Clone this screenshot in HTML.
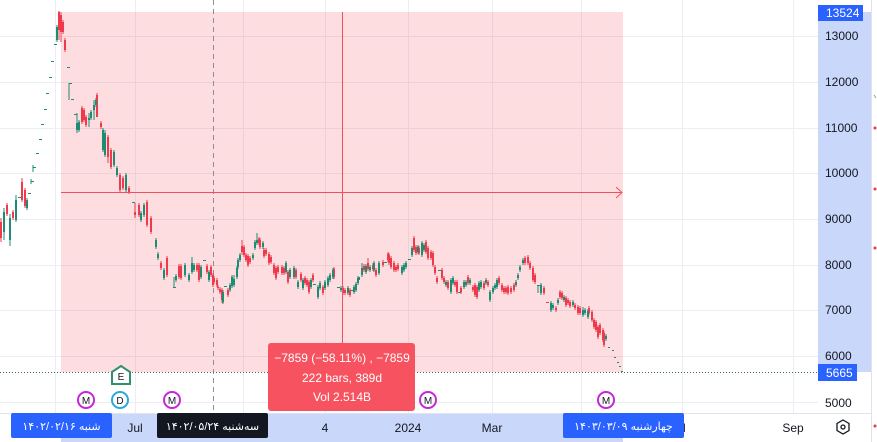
<!DOCTYPE html>
<html><head><meta charset="utf-8"><style>
html,body{margin:0;padding:0;background:#fff;}
svg{display:block;font-family:"Liberation Sans","DejaVu Sans",sans-serif;}
</style></head><body>
<svg width="877" height="442" viewBox="0 0 877 442" xmlns="http://www.w3.org/2000/svg">
<rect width="877" height="442" fill="#fff"/>
<!-- grid -->
<g stroke="#eceef3" stroke-width="1">
<path d="M0 36.5H818M0 82.5H818M0 128.5H818M0 173.5H818M0 219.5H818M0 265.5H818M0 310.5H818M0 356.5H818M0 402.5H818"/>
<path d="M55.5 0V413M135.5 0V413M243.5 0V413M325.5 0V413M408.5 0V413M492.5 0V413M581.5 0V413M682.5 0V413M793.5 0V413"/>
</g>
<!-- pink range -->
<rect x="61" y="12" width="562" height="360" fill="rgba(242,54,69,0.17)"/>
<!-- dashed vertical -->
<path d="M213.5 0V413" stroke="#8a8e99" stroke-width="1" stroke-dasharray="5 4"/>
<!-- candles: wicks -->
<path fill="none" stroke="#ee3a4c" stroke-width="1" d="M1 218V242M7 203V216M13 210V220M22 178V202M25 188V208M59 11V40M61 12V42M63 20V34M65 38V52M82 106V124M84 108V122M86 115V127M97 93V117M101 121V129M108 135V163M111 148V169M120 173V192M123 176V190M129 186V194M135 203V218M139 203V217M147 200V227M151 216V234M161 261V270M167 256V277M179 264V279M181 264V280M197 263V272M199 263V282M207 264V274M211 265V277M213 273V287M214 276V284M217 278V287M218 285V290M220 287V294M222 288V303M228 288V297M242 240V255M244 245V257M246 253V262M248 254V267M250 256V264M259 237V245M260 238V249M264 248V258M266 248V256M269 252V265M271 255V264M274 263V275M276 266V280M278 265V274M282 265V275M284 266V275M288 270V284M296 268V279M301 272V282M305 276V285M307 278V287M309 280V294M313 273V282M323 285V295M334 267V279M343 286V295M345 288V295M350 288V297M364 264V272M368 258V271M373 263V271M376 268V277M383 260V267M388 252V262M389 253V265M391 256V269M394 261V272M396 265V272M398 263V271M414 236V252M416 245V255M419 246V255M426 240V254M428 246V260M431 250V260M433 251V267M435 265V275M437 276V284M442 268V280M444 276V284M448 280V290M455 280V287M457 280V294M461 286V294M468 275V285M473 285V292M475 283V297M477 285V299M484 281V290M488 280V287M499 276V285M502 283V292M504 286V294M506 286V294M508 285V295M511 286V294M514 283V292M525 256V265M528 255V265M530 261V270M533 266V282M535 273V284M544 286V295M556 306V312M560 290V299M562 291V300M566 296V307M568 298V305M570 300V308M575 303V310M578 305V315M580 306V315M589 306V315M592 310V322M594 318V329M596 320V332M598 325V339M600 323V335M603 328V342M604 331V347"/>
<path fill="none" stroke="#1e8c72" stroke-width="1" d="M4 208V240M10 214V246M16 195V222M27 198V210M57 25V42M77 113V133M79 120V132M89 113V127M91 110V120M94 100V120M96 98V107M103 128V152M105 130V157M114 150V167M117 166V177M126 173V192M141 211V222M144 203V217M156 238V249M158 252V260M164 268V280M174 277V288M176 274V282M185 263V277M189 273V282M192 257V274M194 263V272M201 265V279M209 270V282M223 290V304M230 283V292M232 275V288M234 275V287M237 266V279M238 258V269M240 253V262M253 253V260M255 240V250M257 233V245M263 241V249M286 261V274M290 268V279M294 266V279M298 280V289M303 278V290M311 278V289M318 285V299M320 281V290M325 280V290M328 276V287M330 273V282M333 268V279M341 286V292M348 286V295M354 285V294M356 282V292M358 276V285M362 263V277M366 264V274M370 265V272M374 261V272M379 261V275M402 265V275M404 263V272M406 261V269M412 246V257M418 245V254M422 241V257M424 243V252M446 280V287M451 278V294M453 276V285M464 280V289M466 280V287M470 278V285M479 281V292M481 280V289M486 278V285M490 290V302M493 286V294M495 283V290M497 278V289M516 280V287M518 273V280M520 265V272M523 258V265M538 285V293M541 283V295M551 301V312M553 303V310M558 298V305M564 295V302M573 300V307M583 307V317M585 308V315M588 309V319M606 334V341M33 165V172M69 83V100M31 179V184"/>
<!-- red bodies -->
<path fill="#ee3a4c" d="M0 222h2v16h-2zM6 205h2v9h-2zM12 212h2v6h-2zM21 182h2v18h-2zM24 190h2v16h-2zM58 12h2v18h-2zM60 15h2v17h-2zM62 22h2v10h-2zM64 40h2v10h-2zM81 108h2v14h-2zM83 110h2v10h-2zM85 117h2v8h-2zM96 95h2v22h-2zM100 123h2v4h-2zM107 137h2v20h-2zM110 150h2v17h-2zM119 175h2v15h-2zM122 178h2v10h-2zM128 188h2v4h-2zM134 212h2v3h-2zM138 205h2v10h-2zM146 202h2v23h-2zM150 218h2v14h-2zM160 263h2v5h-2zM166 258h2v17h-2zM178 266h2v11h-2zM180 266h2v12h-2zM196 265h2v5h-2zM198 265h2v15h-2zM206 266h2v6h-2zM210 267h2v8h-2zM212 275h2v10h-2zM213 278h2v4h-2zM216 280h2v5h-2zM217 287h2v1h-2zM219 289h2v3h-2zM221 290h2v10h-2zM227 290h2v5h-2zM241 246h2v6h-2zM243 247h2v8h-2zM245 255h2v5h-2zM247 256h2v9h-2zM249 258h2v4h-2zM258 239h2v4h-2zM259 240h2v7h-2zM263 250h2v6h-2zM265 250h2v4h-2zM268 254h2v9h-2zM270 257h2v5h-2zM273 265h2v8h-2zM275 268h2v10h-2zM277 267h2v5h-2zM281 267h2v6h-2zM283 268h2v5h-2zM287 272h2v10h-2zM295 270h2v7h-2zM300 274h2v6h-2zM304 278h2v5h-2zM306 280h2v5h-2zM308 282h2v10h-2zM312 275h2v5h-2zM322 287h2v6h-2zM333 269h2v8h-2zM342 288h2v5h-2zM344 290h2v3h-2zM349 290h2v5h-2zM363 266h2v4h-2zM367 263h2v6h-2zM372 265h2v4h-2zM375 270h2v5h-2zM382 262h2v3h-2zM387 254h2v6h-2zM388 255h2v8h-2zM390 258h2v9h-2zM393 263h2v7h-2zM395 267h2v3h-2zM397 265h2v4h-2zM413 238h2v12h-2zM415 247h2v6h-2zM418 248h2v5h-2zM425 242h2v10h-2zM427 248h2v10h-2zM430 252h2v6h-2zM432 253h2v12h-2zM434 267h2v6h-2zM436 278h2v4h-2zM441 270h2v8h-2zM443 278h2v4h-2zM447 282h2v6h-2zM454 282h2v3h-2zM456 282h2v10h-2zM460 288h2v4h-2zM467 277h2v6h-2zM472 287h2v3h-2zM474 285h2v10h-2zM476 287h2v10h-2zM483 283h2v5h-2zM487 282h2v3h-2zM498 278h2v5h-2zM501 285h2v5h-2zM503 288h2v4h-2zM505 288h2v4h-2zM507 287h2v6h-2zM510 288h2v4h-2zM513 285h2v5h-2zM524 258h2v5h-2zM527 257h2v6h-2zM529 263h2v5h-2zM532 268h2v12h-2zM534 275h2v7h-2zM543 288h2v5h-2zM546 302h3v1h-3zM555 308h2v2h-2zM559 292h2v5h-2zM561 293h2v5h-2zM565 298h2v7h-2zM567 300h2v3h-2zM569 302h2v4h-2zM574 305h2v3h-2zM577 307h2v6h-2zM579 308h2v5h-2zM588 308h2v5h-2zM591 312h2v8h-2zM593 320h2v7h-2zM595 322h2v8h-2zM597 327h2v10h-2zM599 325h2v8h-2zM602 330h2v10h-2zM603 333h2v12h-2z"/>
<!-- green bodies -->
<path fill="#1e8c72" d="M3 212h2v20h-2zM9 218h2v22h-2zM15 200h2v20h-2zM26 200h2v8h-2zM56 27h2v13h-2zM76 123h2v7h-2zM78 122h2v8h-2zM88 118h2v2h-2zM90 112h2v6h-2zM93 105h2v5h-2zM95 100h2v5h-2zM102 130h2v20h-2zM104 133h2v22h-2zM113 152h2v13h-2zM116 168h2v7h-2zM125 175h2v15h-2zM140 213h2v7h-2zM143 205h2v10h-2zM155 240h2v7h-2zM157 254h2v4h-2zM163 270h2v8h-2zM175 276h2v4h-2zM184 265h2v10h-2zM188 275h2v5h-2zM191 263h2v9h-2zM193 265h2v5h-2zM200 267h2v10h-2zM208 272h2v8h-2zM222 292h2v10h-2zM229 285h2v5h-2zM231 277h2v9h-2zM233 279h2v6h-2zM236 268h2v9h-2zM237 260h2v7h-2zM239 255h2v5h-2zM252 255h2v3h-2zM254 242h2v6h-2zM256 240h2v3h-2zM262 243h2v4h-2zM285 263h2v9h-2zM289 270h2v7h-2zM293 268h2v9h-2zM297 282h2v5h-2zM302 280h2v8h-2zM310 280h2v7h-2zM317 287h2v10h-2zM319 283h2v5h-2zM324 282h2v6h-2zM327 278h2v7h-2zM329 275h2v5h-2zM332 270h2v7h-2zM340 288h2v2h-2zM347 288h2v5h-2zM353 287h2v5h-2zM355 284h2v6h-2zM357 278h2v5h-2zM358 277h2v3h-2zM361 268h2v7h-2zM365 266h2v6h-2zM369 267h2v3h-2zM373 263h2v7h-2zM378 263h2v10h-2zM401 267h2v6h-2zM403 265h2v5h-2zM405 263h2v4h-2zM411 248h2v7h-2zM417 247h2v5h-2zM421 243h2v12h-2zM423 245h2v5h-2zM445 282h2v3h-2zM450 280h2v12h-2zM452 278h2v5h-2zM463 282h2v5h-2zM465 282h2v3h-2zM469 280h2v3h-2zM478 283h2v7h-2zM480 282h2v5h-2zM485 280h2v3h-2zM489 292h2v8h-2zM492 288h2v4h-2zM494 285h2v3h-2zM496 280h2v7h-2zM515 282h2v3h-2zM517 275h2v3h-2zM519 267h2v3h-2zM522 260h2v3h-2zM540 285h2v8h-2zM550 303h2v7h-2zM552 305h2v3h-2zM557 300h2v3h-2zM563 297h2v3h-2zM572 302h2v3h-2zM582 310h2v5h-2zM584 310h2v3h-2zM587 311h2v6h-2zM605 336h2v3h-2zM18 197h3v1h-3zM28 193h3v1h-3zM31 181h3v1h-3zM33 167h3v1h-3zM36 153h3v1h-3zM39 139h3v1h-3zM41 124h3v1h-3zM44 109h3v1h-3zM46 93h3v1h-3zM49 77h3v1h-3zM51 61h3v1h-3zM54 44h3v1h-3zM67 67h3v1h-3zM69 83h3v1h-3zM71 99h3v1h-3zM74 114h3v1h-3zM132 202h3v1h-3zM173 287h3v1h-3zM203 260h3v1h-3zM224 286h3v1h-3zM313 284h3v1h-3zM337 287h3v1h-3zM351 290h3v1h-3zM384 262h3v1h-3zM408 259h3v1h-3zM438 270h3v1h-3zM458 292h3v1h-3zM537 285h3v1h-3zM608 347h2v1h-2zM612 350h2v1h-2zM614 357h2v1h-2zM617 362h2v1h-2zM619 366h2v1h-2zM621 371h2v1h-2z"/>
<!-- crosshair lines -->
<path d="M61 192.5H622M616 187L622 192.5L616 198" stroke="#f0505e" stroke-width="1" fill="none"/>
<path d="M342.5 12V343" stroke="#f0505e" stroke-width="1"/>
<!-- dotted last price line -->
<path d="M0 372.5H818" stroke="#3d6b5f" stroke-width="1" stroke-dasharray="1 2"/>
<!-- markers -->
<g fill="#fff" stroke-width="2">
<circle cx="86" cy="400" r="8" stroke="#c724dc"/>
<circle cx="172" cy="400" r="8" stroke="#c724dc"/>
<circle cx="428" cy="400" r="8" stroke="#c724dc"/>
<circle cx="606" cy="400" r="8" stroke="#c724dc"/>
<circle cx="120" cy="400" r="8" stroke="#29a9d9"/>
<path d="M112 372L121 366L130 372V384H112Z" stroke="#2f8f6e"/>
</g>
<g font-size="10" fill="#131722" text-anchor="middle">
<text x="86" y="404">M</text><text x="172" y="404">M</text><text x="428" y="404">M</text><text x="606" y="404">M</text>
<text x="120" y="404">D</text><text x="121" y="380">E</text>
</g>
<!-- tooltip -->
<rect x="268" y="343" width="147" height="68" rx="3" fill="#f7525f"/>
<g fill="#fff" font-size="12" text-anchor="middle">
<text x="342" y="362">−7859 (−58.11%) , −7859</text>
<text x="342" y="382">222 bars, 389d</text>
<text x="342" y="401">Vol 2.514B</text>
</g>
<!-- price axis -->
<rect x="818" y="0" width="53" height="413" fill="#fff"/>
<rect x="818" y="12" width="53" height="360" fill="#c9d7fa"/>
<path d="M871.5 0V442" stroke="#e0e3eb"/>
<g font-size="12" fill="#131722">
<text x="825" y="40">13000</text>
<text x="825" y="86">12000</text>
<text x="825" y="132">11000</text>
<text x="825" y="177">10000</text>
<text x="825" y="223">9000</text>
<text x="825" y="269">8000</text>
<text x="825" y="314">7000</text>
<text x="825" y="360">6000</text>
<text x="825" y="407">5000</text>
</g>
<rect x="818" y="5" width="45" height="16" fill="#2962ff"/>
<text x="826" y="17" font-size="12" fill="#fff">13524</text>
<rect x="818" y="364" width="39" height="17" fill="#2962ff"/>
<text x="826" y="377" font-size="12" fill="#fff">5665</text>
<!-- right strip -->
<g fill="#f23645"><circle cx="875" cy="128" r="1.5"/><circle cx="875" cy="189" r="1.5"/><circle cx="875" cy="248" r="1.5"/><circle cx="875" cy="426" r="1.5"/></g>
<path d="M874 95L876 98" stroke="#999" stroke-width="1"/>
<!-- time axis -->
<rect x="0" y="413" width="871" height="29" fill="#fff"/>
<rect x="61" y="413" width="562" height="29" fill="#c9d7fa"/>
<path d="M0 413.5H871" stroke="#e0e3eb"/>
<g font-size="12" fill="#131722" text-anchor="middle">
<text x="135" y="432">Jul</text>
<text x="325" y="432">4</text>
<text x="408" y="432">2024</text>
<text x="492" y="432">Mar</text>
<text x="678" y="432">Jul</text>
<text x="793" y="432">Sep</text>
</g>
<!-- gear -->
<path d="M843 420L849 423.5V430.5L843 434L837 430.5V423.5Z" fill="none" stroke="#131722" stroke-width="1.3"/>
<circle cx="843" cy="427" r="2" fill="none" stroke="#131722" stroke-width="1.3"/>
<!-- date labels -->
<rect x="11" y="413" width="101" height="25" rx="2" fill="#2962ff"/>
<text x="61.5" y="430" font-size="11" fill="#fff" text-anchor="middle" direction="rtl" unicode-bidi="embed">شنبه ۱۴۰۲/۰۲/۱۶</text>
<rect x="157" y="413" width="111" height="25" rx="2" fill="#131722"/>
<text x="212.5" y="430" font-size="11" fill="#fff" text-anchor="middle" direction="rtl" unicode-bidi="embed">سه‌شنبه ۱۴۰۲/۰۵/۲۴</text>
<rect x="563" y="413" width="121" height="25" rx="2" fill="#2962ff"/>
<text x="623.5" y="430" font-size="11" fill="#fff" text-anchor="middle" direction="rtl" unicode-bidi="embed">چهارشنبه ۱۴۰۳/۰۳/۰۹</text>
</svg>
</body></html>
